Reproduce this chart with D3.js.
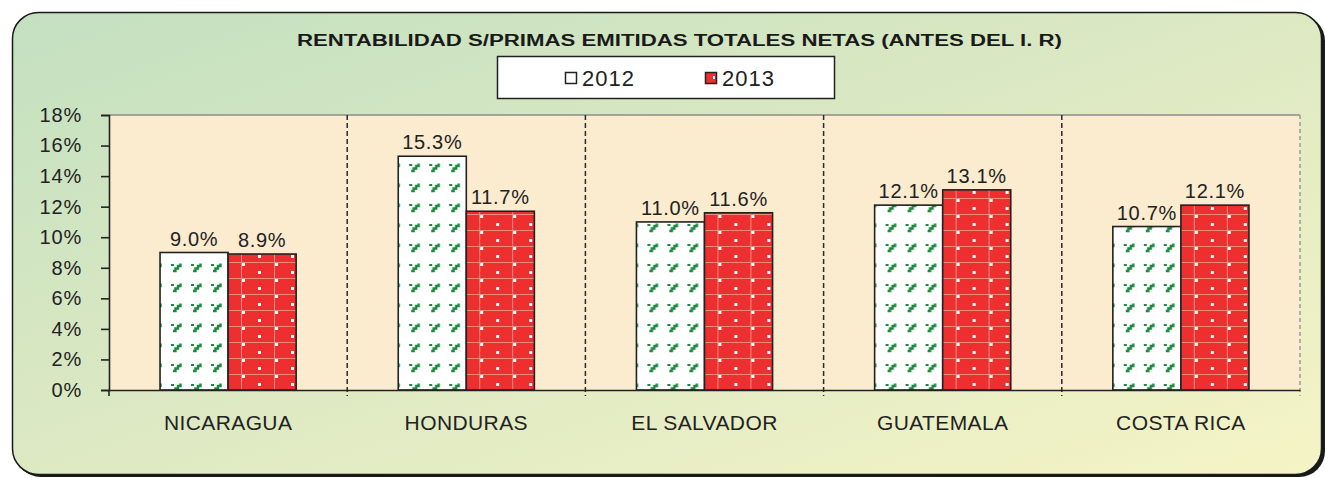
<!DOCTYPE html>
<html>
<head>
<meta charset="utf-8">
<script src="https://cdn.jsdelivr.net/npm/d3@7"></script>
<style>
  html, body { margin: 0; padding: 0; background: #fff; }
  svg { display: block; font-family: Arial, "Liberation Sans", sans-serif; }
</style>
</head>
<body>
<div id="chart"></div>
<script>
// Chart data
const categories = ['NICARAGUA', 'HONDURAS', 'EL SALVADOR', 'GUATEMALA', 'COSTA RICA'];
const seriesNames = ['2012', '2013'];
const values2012 = [0.090, 0.153, 0.110, 0.121, 0.107];
const values2013 = [0.089, 0.117, 0.116, 0.131, 0.121];
const yTicks = [0, 0.02, 0.04, 0.06, 0.08, 0.10, 0.12, 0.14, 0.16, 0.18];
const title = 'RENTABILIDAD S/PRIMAS EMITIDAS TOTALES NETAS (ANTES DEL I. R)';

const width = 1325, height = 478;
const plot = {left: 109, right: 1300, top: 115, bottom: 390};

const svg = d3.select('#chart').append('svg')
    .attr('width', width)
    .attr('height', height);

const defs = svg.append('defs');

// Background gradient (green top-left to pale yellow bottom-right)
const grad = defs.append('linearGradient')
    .attr('id', 'bg')
    .attr('x1', 0).attr('y1', 0).attr('x2', 1).attr('y2', 1);
grad.append('stop').attr('offset', '0%').attr('stop-color', '#c3e0c0');
grad.append('stop').attr('offset', '50%').attr('stop-color', '#dde9c3');
grad.append('stop').attr('offset', '100%').attr('stop-color', '#f5f4c6');

// Pattern for 2012: white with small green marks
const pat12 = defs.append('pattern')
    .attr('id', 'pat2012')
    .attr('patternUnits', 'userSpaceOnUse')
    .attr('x', 0).attr('y', 2)
    .attr('width', 20).attr('height', 20);
pat12.append('rect').attr('width', 20).attr('height', 20).attr('fill', '#fff');
pat12.append('rect').attr('x', 2).attr('y', 2).attr('width', 3).attr('height', 2).attr('fill', '#1b8a3e');
pat12.append('path')
    .attr('d', 'M4,9 L6.5,9 L6.5,6.5 L9,6.5 L9,4 L11.5,4 L11.5,1.5')
    .attr('fill', 'none')
    .attr('stroke', '#1b8a3e')
    .attr('stroke-width', 2.4);

// Pattern for 2013: red with light grid and white squares
const pat13 = defs.append('pattern')
    .attr('id', 'pat2013')
    .attr('patternUnits', 'userSpaceOnUse')
    .attr('x', 0).attr('y', 6)
    .attr('width', 33).attr('height', 16);
pat13.append('rect').attr('width', 33).attr('height', 16).attr('fill', '#ee2f2f');
pat13.append('rect').attr('x', 0).attr('y', 0).attr('width', 33).attr('height', 1).attr('fill', '#f68a80');
pat13.append('rect').attr('x', 0).attr('y', 0).attr('width', 1).attr('height', 16).attr('fill', '#f68a80');
pat13.append('rect').attr('x', 1).attr('y', 1).attr('width', 3).attr('height', 3).attr('fill', '#fff');
pat13.append('rect').attr('x', 17).attr('y', 9).attr('width', 3).attr('height', 3).attr('fill', '#fff');

// Outer frame with shadow
svg.append('rect')
    .attr('x', 15).attr('y', 15)
    .attr('width', 1310).attr('height', 462)
    .attr('rx', 26)
    .attr('fill', '#1a1a1a');
svg.append('rect')
    .attr('x', 12.5).attr('y', 12.5)
    .attr('width', 1309).attr('height', 462)
    .attr('rx', 26)
    .attr('fill', 'url(#bg)')
    .attr('stroke', '#1a1a1a')
    .attr('stroke-width', 1.5);

// Scales
const x0 = d3.scaleBand()
    .domain(categories)
    .range([plot.left, plot.right])
    .paddingInner(0).paddingOuter(0);

const x1 = d3.scaleBand()
    .domain(seriesNames)
    .range([0, x0.bandwidth()])
    .paddingInner(0).paddingOuter(0.75);

const y = d3.scaleLinear()
    .domain([0, 0.18])
    .range([plot.bottom, plot.top]);

// Plot area
svg.append('rect')
    .attr('x', plot.left).attr('y', plot.top)
    .attr('width', plot.right - plot.left)
    .attr('height', plot.bottom - plot.top)
    .attr('fill', '#fbebcf');

svg.append('line')
    .attr('x1', plot.left).attr('x2', plot.right)
    .attr('y1', plot.top).attr('y2', plot.top)
    .attr('stroke', '#8c8c8c').attr('stroke-width', 1.5);

svg.append('line')
    .attr('x1', plot.right).attr('x2', plot.right)
    .attr('y1', plot.top).attr('y2', plot.bottom + 6)
    .attr('stroke', '#9a9a9a').attr('stroke-width', 1.5)
    .attr('stroke-dasharray', '4,3');

// Category dividers (dashed)
svg.append('g')
    .selectAll('line')
    .data(categories.slice(1))
    .join('line')
      .attr('x1', d => x0(d)).attr('x2', d => x0(d))
      .attr('y1', plot.top).attr('y2', plot.bottom + 6)
      .attr('stroke', '#2a2a2a').attr('stroke-width', 1.5)
      .attr('stroke-dasharray', '5,3');

// Bars
const groups = svg.append('g')
    .selectAll('g')
    .data(categories)
    .join('g')
      .attr('transform', d => `translate(${x0(d)},0)`);

groups.selectAll('rect')
    .data((d, i) => [
      {series: '2012', value: values2012[i]},
      {series: '2013', value: values2013[i]}
    ])
    .join('rect')
      .attr('x', d => x1(d.series))
      .attr('y', d => y(d.value))
      .attr('width', x1.bandwidth())
      .attr('height', d => y(0) - y(d.value))
      .attr('fill', d => d.series === '2012' ? 'url(#pat2012)' : 'url(#pat2013)')
      .attr('stroke', '#222')
      .attr('stroke-width', 1.6);

groups.selectAll('text')
    .data((d, i) => [
      {series: '2012', value: values2012[i]},
      {series: '2013', value: values2013[i]}
    ])
    .join('text')
      .attr('x', d => x1(d.series) + x1.bandwidth() / 2)
      .attr('y', d => y(d.value) - 7)
      .attr('text-anchor', 'middle')
      .attr('font-size', 20)
      .attr('letter-spacing', 0.7)
      .attr('fill', '#222')
      .text(d => d3.format('.1%')(d.value));

// Y axis
const yAxis = svg.append('g')
    .attr('transform', `translate(${plot.left},0)`)
    .call(d3.axisLeft(y)
        .tickValues(yTicks)
        .tickSize(8)
        .tickPadding(19)
        .tickFormat(d3.format('.0%')));
yAxis.select('.domain').attr('stroke', '#222').attr('stroke-width', 1.6);
yAxis.selectAll('.tick line').attr('stroke', '#222').attr('stroke-width', 1.6);
yAxis.selectAll('.tick text')
    .attr('font-size', 20)
    .attr('letter-spacing', 0.8)
    .attr('fill', '#222')
    .attr('font-family', 'Arial, "Liberation Sans", sans-serif');

// X axis
const xAxis = svg.append('g')
    .attr('transform', `translate(0,${plot.bottom})`)
    .call(d3.axisBottom(x0).tickSize(0).tickPadding(25));
xAxis.select('.domain').attr('stroke', '#222').attr('stroke-width', 1.6);
xAxis.selectAll('.tick text')
    .attr('font-size', 21)
    .attr('letter-spacing', 0.4)
    .attr('fill', '#222')
    .attr('font-family', 'Arial, "Liberation Sans", sans-serif');

svg.append('line')
    .attr('x1', plot.left).attr('x2', plot.left)
    .attr('y1', plot.bottom).attr('y2', plot.bottom + 6)
    .attr('stroke', '#222').attr('stroke-width', 1.6);

// Title
svg.append('text')
    .attr('x', 297)
    .attr('y', 46)
    .attr('textLength', 765)
    .attr('lengthAdjust', 'spacingAndGlyphs')
    .attr('font-size', 16)
    .attr('font-weight', 'bold')
    .attr('fill', '#1a1a1a')
    .text(title);

// Legend
const legend = svg.append('g');
legend.append('rect')
    .attr('x', 497.5).attr('y', 56.5)
    .attr('width', 337).attr('height', 42)
    .attr('fill', '#fff')
    .attr('stroke', '#222').attr('stroke-width', 1.5);

const legendX = [565, 705];
seriesNames.forEach((name, i) => {
  legend.append('rect')
      .attr('x', legendX[i] + 0.5).attr('y', 72.5)
      .attr('width', 11).attr('height', 11)
      .attr('fill', i === 0 ? '#fff' : '#ee2f2f')
      .attr('stroke', '#222').attr('stroke-width', 1.5);
  if (i === 1) {
    legend.append('rect')
        .attr('x', legendX[i] + 8).attr('y', 76)
        .attr('width', 2).attr('height', 3)
        .attr('fill', '#fff');
  }
  legend.append('text')
      .attr('x', legendX[i] + 17)
      .attr('y', 86)
      .attr('font-size', 22)
      .attr('letter-spacing', 1)
      .attr('fill', '#222')
      .text(name);
});
</script>
</body>
</html>
